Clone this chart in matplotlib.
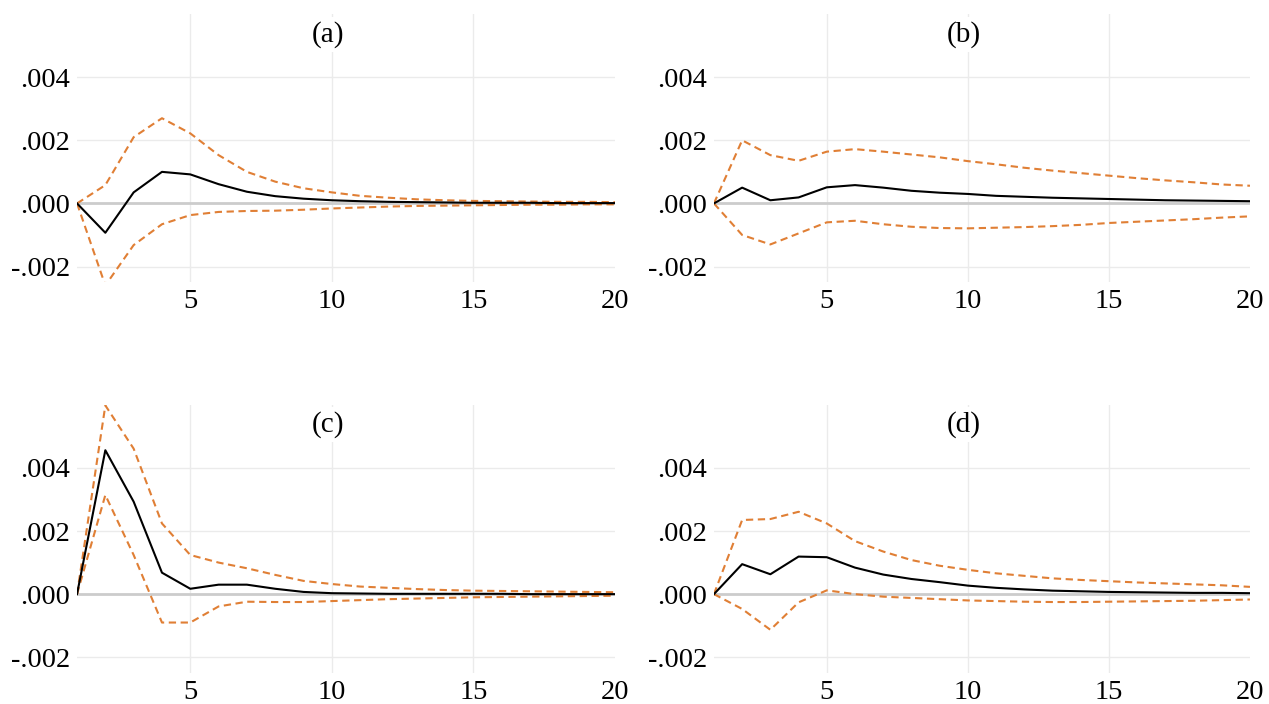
import numpy as np
import matplotlib.pyplot as plt
import matplotlib.transforms as mtransforms

plt.rcParams['font.family'] = ['Liberation Serif', 'DejaVu Serif']

steps = list(range(1, 21))
panel_titles = ['(a)', '(b)', '(c)', '(d)']

# impulse responses (solid) and confidence bands (dashed)
irf_a = [0, -0.00093, 0.00035, 0.00100, 0.00092, 0.00061, 0.00037, 0.00023, 0.00015, 0.00010,
         0.00007, 0.00005, 0.00004, 0.00003, 0.00002, 0.00002, 0.00002, 0.00001, 0.00001, 0.00001]
up_a = [0, 0.00058, 0.00210, 0.00270, 0.00222, 0.00153, 0.00100, 0.00069, 0.00048, 0.00035,
        0.00024, 0.00018, 0.00013, 0.00010, 0.00008, 0.00007, 0.00006, 0.00005, 0.00005, 0.00004]
lo_a = [0, -0.00260, -0.00132, -0.00066, -0.00037, -0.00027, -0.00024, -0.00023, -0.00020, -0.00016,
        -0.00013, -0.00010, -0.00008, -0.00007, -0.00006, -0.00005, -0.00004, -0.00004, -0.00003, -0.00003]

irf_b = [0, 0.00050, 0.00010, 0.00019, 0.00051, 0.00058, 0.00050, 0.00040, 0.00034, 0.00030,
         0.00024, 0.00021, 0.00018, 0.00016, 0.00014, 0.00012, 0.00010, 0.00009, 0.00008, 0.00007]
up_b = [0, 0.00200, 0.00153, 0.00135, 0.00164, 0.00172, 0.00164, 0.00155, 0.00146, 0.00134,
        0.00124, 0.00113, 0.00104, 0.00096, 0.00088, 0.00080, 0.00073, 0.00067, 0.00060, 0.00056]
lo_b = [0, -0.00100, -0.00130, -0.00095, -0.00060, -0.00055, -0.00066, -0.00074, -0.00078, -0.00079,
        -0.00077, -0.00075, -0.00072, -0.00068, -0.00062, -0.00058, -0.00054, -0.00050, -0.00045, -0.00041]

irf_c = [0, 0.00456, 0.00293, 0.00068, 0.00017, 0.00030, 0.00030, 0.00017, 0.00007, 0.00003,
         0.00002, 0.00001, 0.00001, 0.00001, 0.00001, 0.00001, 0.00000, 0.00000, 0.00000, 0.00000]
up_c = [0, 0.00598, 0.00461, 0.00224, 0.00124, 0.00100, 0.00082, 0.00061, 0.00042, 0.00032,
        0.00024, 0.00020, 0.00016, 0.00013, 0.00011, 0.00010, 0.00009, 0.00008, 0.00007, 0.00006]
lo_c = [0, 0.00314, 0.00124, -0.00090, -0.00090, -0.00039, -0.00024, -0.00025, -0.00025, -0.00022,
        -0.00019, -0.00016, -0.00014, -0.00012, -0.00010, -0.00009, -0.00008, -0.00007, -0.00006, -0.00005]

irf_d = [0, 0.00095, 0.00063, 0.00119, 0.00117, 0.00084, 0.00062, 0.00048, 0.00038, 0.00027,
         0.00020, 0.00015, 0.00011, 0.00009, 0.00007, 0.00006, 0.00005, 0.00004, 0.00004, 0.00003]
up_d = [0, 0.00235, 0.00238, 0.00261, 0.00224, 0.00168, 0.00135, 0.00108, 0.00090, 0.00077,
        0.00066, 0.00058, 0.00050, 0.00045, 0.00041, 0.00037, 0.00034, 0.00031, 0.00028, 0.00023]
lo_d = [0, -0.00047, -0.00113, -0.00026, 0.00012, 0.00000, -0.00008, -0.00012, -0.00016, -0.00020,
        -0.00022, -0.00024, -0.00025, -0.00025, -0.00024, -0.00023, -0.00022, -0.00021, -0.00019, -0.00017]

panels = [(irf_a, up_a, lo_a), (irf_b, up_b, lo_b), (irf_c, up_c, lo_c), (irf_d, up_d, lo_d)]

ytick_vals = [-0.002, 0.0, 0.002, 0.004]
ytick_labels = ['-.002', '.000', '.002', '.004']
xtick_vals = [5, 10, 15, 20]

orange = '#e07f35'
grid_c = '#ebebeb'

fig = plt.figure(figsize=(12.69, 7.04), dpi=100)
boxes = [(0.0607, 0.599, 0.4239, 0.381), (0.5626, 0.599, 0.4224, 0.381),
         (0.0607, 0.044, 0.4239, 0.381), (0.5626, 0.044, 0.4224, 0.381)]

for (irf, up, lo), box, title in zip(panels, boxes, panel_titles):
    ax = fig.add_axes(box)
    ax.set_xlim(1, 20)
    ax.set_ylim(-0.0025, 0.006)
    for v in [-0.002, 0.002, 0.004]:
        ax.axhline(v, color=grid_c, lw=1.0, zorder=0)
    for v in [5, 10, 15]:
        ax.axvline(v, color=grid_c, lw=1.0, zorder=0)
    ax.axhline(0, color='#cccccc', lw=2.0, zorder=1)
    ax.plot(steps, up, color=orange, lw=1.5, ls=(0, (3.5, 2.2)), zorder=2)
    ax.plot(steps, lo, color=orange, lw=1.5, ls=(0, (3.5, 2.2)), zorder=2)
    ax.plot(steps, irf, color='black', lw=1.5, zorder=3)
    trans = mtransforms.blended_transform_factory(ax.transData, ax.transAxes)
    ax.text(9.85, 0.925, title, transform=trans, ha='center', va='center', fontsize=21,
            bbox=dict(facecolor='white', edgecolor='none', pad=3), zorder=4)
    ax.set_yticks(ytick_vals)
    ax.set_yticklabels(ytick_labels)
    ax.set_xticks(xtick_vals)
    ax.tick_params(length=0, labelsize=20.5, pad=5)
    for s in ax.spines.values():
        s.set_visible(False)

fig.savefig('out.png', dpi=100)
